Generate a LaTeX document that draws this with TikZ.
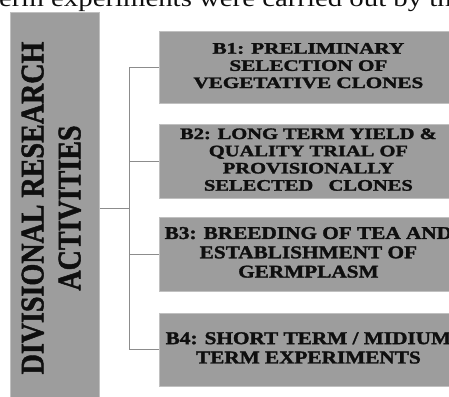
\documentclass[tikz,border=0pt]{standalone}
\usepackage{fontspec}
\usepackage{graphicx}
\setmainfont{Liberation Serif}[BoldFeatures={FakeBold=1.6}]
\newcommand\stretchlines[2]{\scalebox{#1}[1]{\begin{tabular}{@{}c@{}}#2\end{tabular}}}
\definecolor{boxgray}{RGB}{157,157,157}
\definecolor{edgegray}{RGB}{192,192,192}
\definecolor{linegray}{RGB}{140,140,140}
\definecolor{ink}{RGB}{15,15,15}
\begin{document}
\begin{tikzpicture}[x=1pt,y=-1pt,
  actbox/.style={draw=edgegray, line width=0.8pt, fill=boxgray, text=ink, inner sep=0pt, anchor=north west, align=center},
  fontA/.style={font=\bfseries\fontsize{16}{17.2}\selectfont},
  fontB/.style={font=\bfseries\fontsize{18}{19.3}\selectfont},
  conn/.style={draw=linegray, line width=0.9pt}]
\useasboundingbox (0,0) rectangle (449,396);
\clip (0,0) rectangle (449,396);
\node[anchor=base west, inner sep=0pt, font=\fontsize{24}{26}\selectfont, text=ink] (top) at (-1,6.7) {\scalebox{1.2}[1]{erm experiments were carried out by th}};
\node[actbox, minimum width=89pt, minimum height=390pt] (div) at (10,12) {};
\node[rotate=90, font=\bfseries\fontsize{33}{37}\selectfont, text=ink, inner sep=0pt] (divtext) at (54.5,208) {\stretchlines{0.85}{DIVISIONAL RESEARCH\\ACTIVITIES}};
\node[actbox, fontA, minimum width=298pt, minimum height=72pt] (b1) at (159,31) {\stretchlines{1.32}{B1: PRELIMINARY\\SELECTION OF\\VEGETATIVE CLONES}};
\node[actbox, fontA, minimum width=298pt, minimum height=74pt] (b2) at (159,124) {\stretchlines{1.28}{B2: LONG TERM YIELD \&\\QUALITY TRIAL OF\\PROVISIONALLY\\SELECTED\ \ \ CLONES}};
\node[actbox, fontB, minimum width=298pt, minimum height=74pt] (b3) at (159,217) {\stretchlines{1.18}{B3: BREEDING OF TEA AND\\ESTABLISHMENT OF\\GERMPLASM}};
\node[actbox, fontB, minimum width=298pt, minimum height=73pt] (b4) at (159,313) {\stretchlines{1.18}{B4: SHORT TERM / MIDIUM\\TERM EXPERIMENTS}};
\coordinate (j) at (129,208);
\draw[conn] (div.east |- j) -- (j);
\draw[conn] (j) |- (b1.west);
\draw[conn] (j) |- (b2.west);
\draw[conn] (j) |- (b3.west);
\draw[conn] (j) |- (b4.west);
\end{tikzpicture}
\end{document}
